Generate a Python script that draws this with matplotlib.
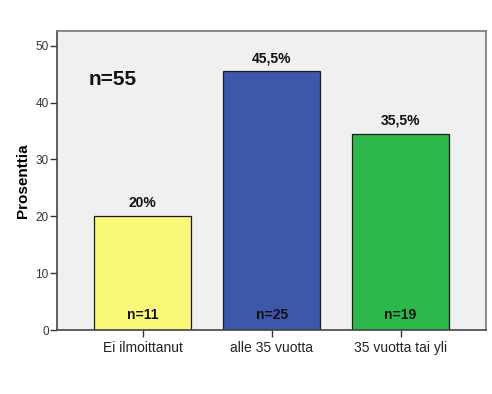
import numpy as np
import matplotlib.pyplot as plt

plt.rcParams['font.family'] = ['Liberation Sans', 'DejaVu Sans']

# data
categories = ['Ei ilmoittanut', 'alle 35 vuotta', '35 vuotta tai yli']
percent = [20.0, 45.5, 34.5]
value_labels = ['20%', '45,5%', '35,5%']
n_labels = ['n=11', 'n=25', 'n=19']
colors = ['#FAF878', '#3D58AB', '#2DB84B']

fig = plt.figure(figsize=(4.92, 3.94), dpi=100)
ax = fig.add_axes([0.1159, 0.1624, 0.8719, 0.7589])
ax.set_facecolor('#F0F0F0')

x = np.arange(len(categories))
bars = ax.bar(x, percent, width=0.752, color=colors, edgecolor='#1a1a1a', linewidth=0.9, zorder=2)

for xi, p, vl, nl in zip(x, percent, value_labels, n_labels):
    ax.text(xi, p + 2.3, vl, ha='center', va='center', fontsize=10, fontweight='bold', color='#111111')
    ax.text(xi, 2.7, nl, ha='center', va='center', fontsize=10, fontweight='bold', color='#111111')

ax.text(-0.23, 44, 'n=55', ha='center', va='center', fontsize=15, fontweight='bold', color='#111111')

ax.set_xlim(-0.664, 2.663)
ax.set_ylim(0, 52.6)
ax.set_yticks([0, 10, 20, 30, 40, 50])
ax.set_xticks(x)
ax.set_xticklabels(categories, fontsize=10, color='#222222')
ax.tick_params(axis='y', labelsize=8.5, length=5, width=1, color='#333333', labelcolor='#333333', pad=1)
ax.tick_params(axis='x', length=5, width=1, color='#333333', pad=3)
ax.set_ylabel('Prosenttia', fontsize=11, fontweight='bold', labelpad=4)

for side in ['top', 'right']:
    ax.spines[side].set_color('#777777')
    ax.spines[side].set_linewidth(1.2)
for side in ['left', 'bottom']:
    ax.spines[side].set_color('#444444')
    ax.spines[side].set_linewidth(1.2)

fig.savefig('out.png', dpi=100)
